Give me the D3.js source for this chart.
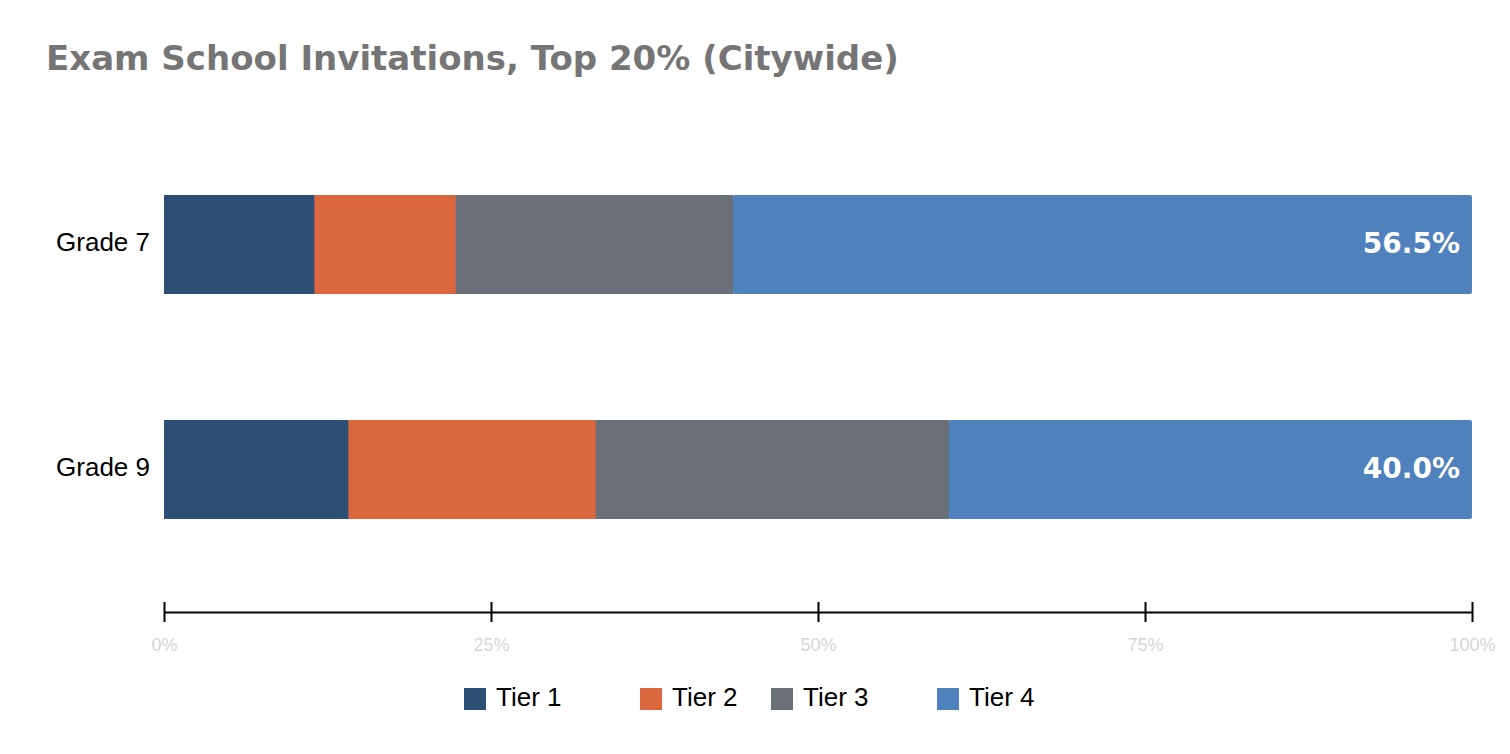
<!DOCTYPE html>
<html>
<head>
<meta charset="utf-8">
<title>Exam School Invitations</title>
<script src="https://cdn.jsdelivr.net/npm/d3@7"></script>
<style>
	body { margin: 0; background: white; font-family: "Liberation Sans", Arial, sans-serif; }
	.title { font-family: "DejaVu Sans", sans-serif; font-weight: bold; font-size: 34px; fill: #757575; }
	.cat { font-size: 26px; fill: black; }
	.tick text { font-size: 18px; fill: #d6d6d6; }
	.leg { font-size: 26px; fill: black; }
	.val { font-family: "DejaVu Sans", sans-serif; font-weight: bold; font-size: 28px; fill: white; }
</style>
</head>
<body>
<svg id="chart" width="1510" height="754"></svg>
<script>
	var grades = ["Grade 7", "Grade 9"];
	var tiers = ["Tier 1", "Tier 2", "Tier 3", "Tier 4"];
	var tier1 = [11.5, 14.1];
	var tier2 = [10.8, 18.9];
	var tier3 = [21.2, 27.0];
	var tier4 = [56.5, 40.0];
	var colors = ["#2d4e75", "#db673e", "#6b6f77", "#4f81bd"];
	var tickLabels = ["0%", "25%", "50%", "75%", "100%"];

	var svg = d3.select("#chart");
	var x = d3.scaleLinear().domain([0, 100]).range([164, 1472]);
	var y = d3.scaleBand().domain(grades).range([150, 564]).paddingInner(0.56).paddingOuter(0.2);

	svg.append("text").attr("class", "title").attr("x", 46).attr("y", 70)
		.text("Exam School Invitations, Top 20% (Citywide)");

	var series = [tier1, tier2, tier3, tier4];
	grades.forEach(function(g, gi) {
		var start = 0;
		series.forEach(function(s, si) {
			var v = s[gi];
			svg.append("rect")
				.attr("x", x(start)).attr("y", y(g))
				.attr("width", x(start + v) - x(start) + (si < 3 ? 0.5 : 0))
				.attr("height", y.bandwidth())
				.attr("rx", si == 3 ? 2 : 0)
				.attr("fill", colors[si]);
			start += v;
		});
		svg.append("text").attr("class", "val")
			.attr("x", x(100) - 12).attr("y", y(g) + y.bandwidth() / 2)
			.attr("text-anchor", "end").attr("dominant-baseline", "middle")
			.text(tier4[gi].toFixed(1) + "%");
		svg.append("text").attr("class", "cat")
			.attr("x", 150).attr("y", y(g) + y.bandwidth() / 2)
			.attr("text-anchor", "end").attr("dominant-baseline", "middle")
			.text(g);
	});

	var axis = d3.axisBottom(x).tickValues([0, 25, 50, 75, 100])
		.tickFormat(function(d, i) { return tickLabels[i]; })
		.tickSizeInner(10).tickSizeOuter(0).tickPadding(16);
	var ag = svg.append("g").attr("transform", "translate(0,612)").call(axis);
	ag.select(".domain").attr("stroke", "black").attr("stroke-width", 2);
	ag.selectAll(".tick line").attr("stroke", "black").attr("stroke-width", 2).attr("y1", -10);

	var legX = [464, 640, 771, 937];
	tiers.forEach(function(t, i) {
		svg.append("rect").attr("x", legX[i]).attr("y", 688).attr("width", 22).attr("height", 22)
			.attr("fill", colors[i]);
		svg.append("text").attr("class", "leg").attr("x", legX[i] + 32).attr("y", 699)
			.attr("dominant-baseline", "middle").text(t);
	});
</script>
</body>
</html>
